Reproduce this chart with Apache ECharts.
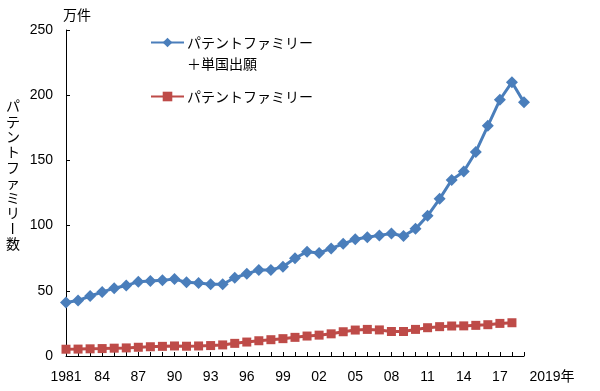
<!DOCTYPE html>
<html><head><meta charset="utf-8">
<script src="https://cdn.jsdelivr.net/npm/echarts@6/dist/echarts.min.js"></script>
<style>html,body{margin:0;padding:0;background:#fff}#c{width:600px;height:391px}</style>
</head><body><div id="c"></div>
<script>
var years = [];
for (var y = 1981; y <= 2019; y++) years.push(String(y));
var labelYears = ['1981','1984','1987','1990','1993','1996','1999','2002','2005','2008','2011','2014','2017','2019'];
var labelTexts = ['1981','84','87','90','93','96','99','02','05','08','11','14','17','2019年'];
var seriesNames = ['パテントファミリー\n＋単国出願', 'パテントファミリー'];
var familyPlusSingle = [41, 42.5, 46, 49, 52, 54, 57, 57.5, 58, 59, 56.5, 56, 55, 55, 60, 63, 66, 66, 68.5, 75,
  80, 79, 82.5, 86, 89.5, 91, 92.5, 94, 92, 97.5, 107.5, 120.5, 135, 141.5, 156.5, 176.5, 196.5, 210, 194.5];
var family = [5.2, 5.3, 5.5, 5.7, 6, 6.2, 6.7, 7.1, 7.4, 7.7, 7.5, 7.7, 8, 8.5, 9.7, 10.7, 11.7, 12.5, 13.3, 14.3,
  15.3, 16, 17, 18.6, 19.9, 20.4, 20, 18.8, 18.8, 20.4, 21.7, 22.5, 23, 23.1, 23.5, 24, 25, 25.5, null];
var yTicks = {min: 0, max: 250, interval: 50};
var yUnit = '万件';
var yTitle = 'パテントファミリー数';

var FONT = '"Liberation Sans", Arial, "Noto Sans CJK JP", sans-serif';
var JFONT = '"Noto Sans CJK JP", sans-serif';

var yTitleEls = [];
Array.from(yTitle).forEach(function (ch, i) {
  var el = {
    type: 'text', x: 13, y: 106 + i * 15.3,
    style: {text: ch, font: '14px ' + JFONT, fill: '#000', align: 'center', verticalAlign: 'middle'}
  };
  if (ch === 'ー') { el.rotation = Math.PI / 2; }
  yTitleEls.push(el);
});

var chart = echarts.init(document.getElementById('c'));
chart.setOption({
  animation: false,
  backgroundColor: '#fff',
  grid: {left: 66, right: 76, top: 30, bottom: 35, containLabel: false},
  legend: {
    orient: 'vertical', left: 150, top: 11, padding: 0, itemGap: 12,
    itemWidth: 33, itemHeight: 12,
    data: seriesNames,
    formatter: function (n) { return n.indexOf('\n') >= 0 ? ' \n' + n : n; },
    textStyle: {fontFamily: JFONT, fontSize: 14, color: '#000', lineHeight: 21, padding: [0,0,0,-2]}
  },
  xAxis: {
    type: 'category', data: years, boundaryGap: false,
    axisLine: {lineStyle: {color: '#000', width: 1}},
    axisTick: {inside: true, length: 4, interval: 0, lineStyle: {color: '#000'}},
    axisLabel: {
      interval: function (idx, val) { return labelYears.indexOf(val) >= 0; },
      formatter: function (val) {
        var i = labelYears.indexOf(val);
        var t = labelTexts[i];
        return val === '2019' ? '{e|' + t + '}' : t;
      },
      color: '#000', fontSize: 14, fontFamily: FONT, margin: 14,
      rich: {e: {fontSize: 14, fontFamily: FONT, color: '#000', padding: [0, 0, 0, 56]}}
    },
    splitLine: {show: false}
  },
  yAxis: {
    type: 'value', min: yTicks.min, max: yTicks.max, interval: yTicks.interval,
    name: yUnit, nameLocation: 'end', nameGap: 8,
    nameTextStyle: {fontFamily: JFONT, fontSize: 14, color: '#000', align: 'center', padding: [0, 0, 0, 22]},
    axisLine: {show: true, lineStyle: {color: '#000', width: 1}},
    axisTick: {show: true, inside: true, length: 4, lineStyle: {color: '#000'}},
    axisLabel: {color: '#000', fontSize: 14, fontFamily: FONT, margin: 13},
    splitLine: {show: false}
  },
  series: [
    {
      name: seriesNames[0], type: 'line', data: familyPlusSingle,
      symbol: 'diamond', symbolSize: 12, showAllSymbol: true, z: 3,
      itemStyle: {color: '#4a7ebb'}, lineStyle: {color: '#4a7ebb', width: 3}
    },
    {
      name: seriesNames[1], type: 'line', data: family,
      symbol: 'rect', symbolSize: 9, showAllSymbol: true, z: 2,
      itemStyle: {color: '#be4b48'}, lineStyle: {color: '#be4b48', width: 3}
    }
  ],
  graphic: yTitleEls
});
</script>
</body></html>
